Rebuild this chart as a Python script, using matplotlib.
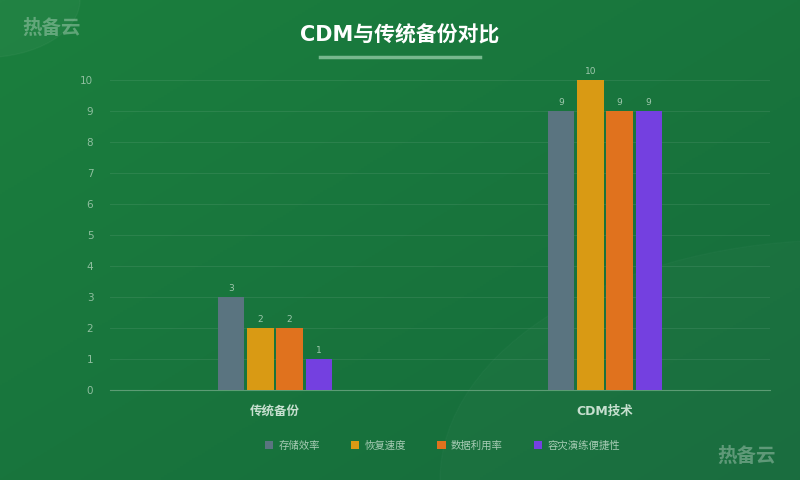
import matplotlib
matplotlib.use("Agg")
import matplotlib.pyplot as plt
import numpy as np
from matplotlib.colors import LinearSegmentedColormap

plt.rcParams['font.family'] = ['DejaVu Sans', 'Noto Sans CJK SC']

categories = ["传统备份", "CDM技术"]
series_names = ["存储效率", "恢复速度", "数据利用率", "容灾演练便捷性"]
values = [[3, 9], [2, 10], [2, 9], [1, 9]]
colors = ["#5a7480", "#d99a14", "#e0721e", "#7440e0"]

fig = plt.figure(figsize=(8, 4.8), dpi=100)
bg = fig.add_axes([0, 0, 1, 1], zorder=-10)
grad = np.linspace(0, 1, 256)
X, Y = np.meshgrid(grad, grad)
g = 0.5 * X + 0.5 * (1 - Y)
cmap = LinearSegmentedColormap.from_list("g", ["#1b7f3e", "#166b3c"])
bg.imshow(g, cmap=cmap, aspect='auto', extent=[0, 1, 0, 1], origin='lower')
bg.add_patch(plt.Circle((-0.02, 1.0), 0.12, color='white', alpha=0.03))
bg.add_patch(plt.Circle((1.05, 0.0), 0.5, color='white', alpha=0.02))
bg.set_xlim(0, 1); bg.set_ylim(0, 1)
bg.axis('off')

fig.text(0.5, 0.927, "CDM与传统备份对比", ha='center', va='center', color='white',
         fontsize=15, fontweight='bold')
fig.add_artist(plt.Line2D([0.4, 0.6], [0.882, 0.882], color='#8fc9a3', lw=2.5, alpha=0.8))
fig.text(0.028, 0.94, "热备云", color='white', alpha=0.3, fontsize=14, fontweight='bold', va='center')
fig.text(0.897, 0.05, "热备云", color='white', alpha=0.3, fontsize=14, fontweight='bold', va='center')

ax = fig.add_axes([0.1375, 0.1875, 0.825, 0.6458])
ax.set_facecolor('none')
x = np.arange(len(categories))
w = 0.079
step = 0.088
for i, (name, vals) in enumerate(zip(series_names, values)):
    pos = x + (i - 1.5) * step
    ax.bar(pos, vals, width=w, color=colors[i], label=name, zorder=3)
    for p, v in zip(pos, vals):
        ax.text(p, v + 0.12, str(v), ha='center', va='bottom', fontsize=6.5, color='#9fc8ad')

ax.set_xlim(-0.5, 1.5)
ax.set_ylim(0, 10)
ax.set_yticks(range(0, 11))
ax.tick_params(axis='y', colors='#8fbf9f', labelsize=7.5, length=0, pad=12)
ax.set_xticks(x)
ax.set_xticklabels(categories, fontsize=9, fontweight='bold', color='#c6dfcf')
ax.tick_params(axis='x', length=0, pad=11)
ax.grid(axis='y', color='white', alpha=0.08, lw=0.8)
for s in ['top', 'right', 'left']:
    ax.spines[s].set_visible(False)
ax.spines['bottom'].set_color('#5c9c74')

fig.legend(loc='center', bbox_to_anchor=(0.553, 0.072), ncol=4, frameon=False,
           fontsize=7.5, labelcolor='#a8ccb5', handlelength=0.8, handleheight=0.8,
           columnspacing=3.0, handletextpad=0.5)
fig.savefig("out.png", dpi=100)
